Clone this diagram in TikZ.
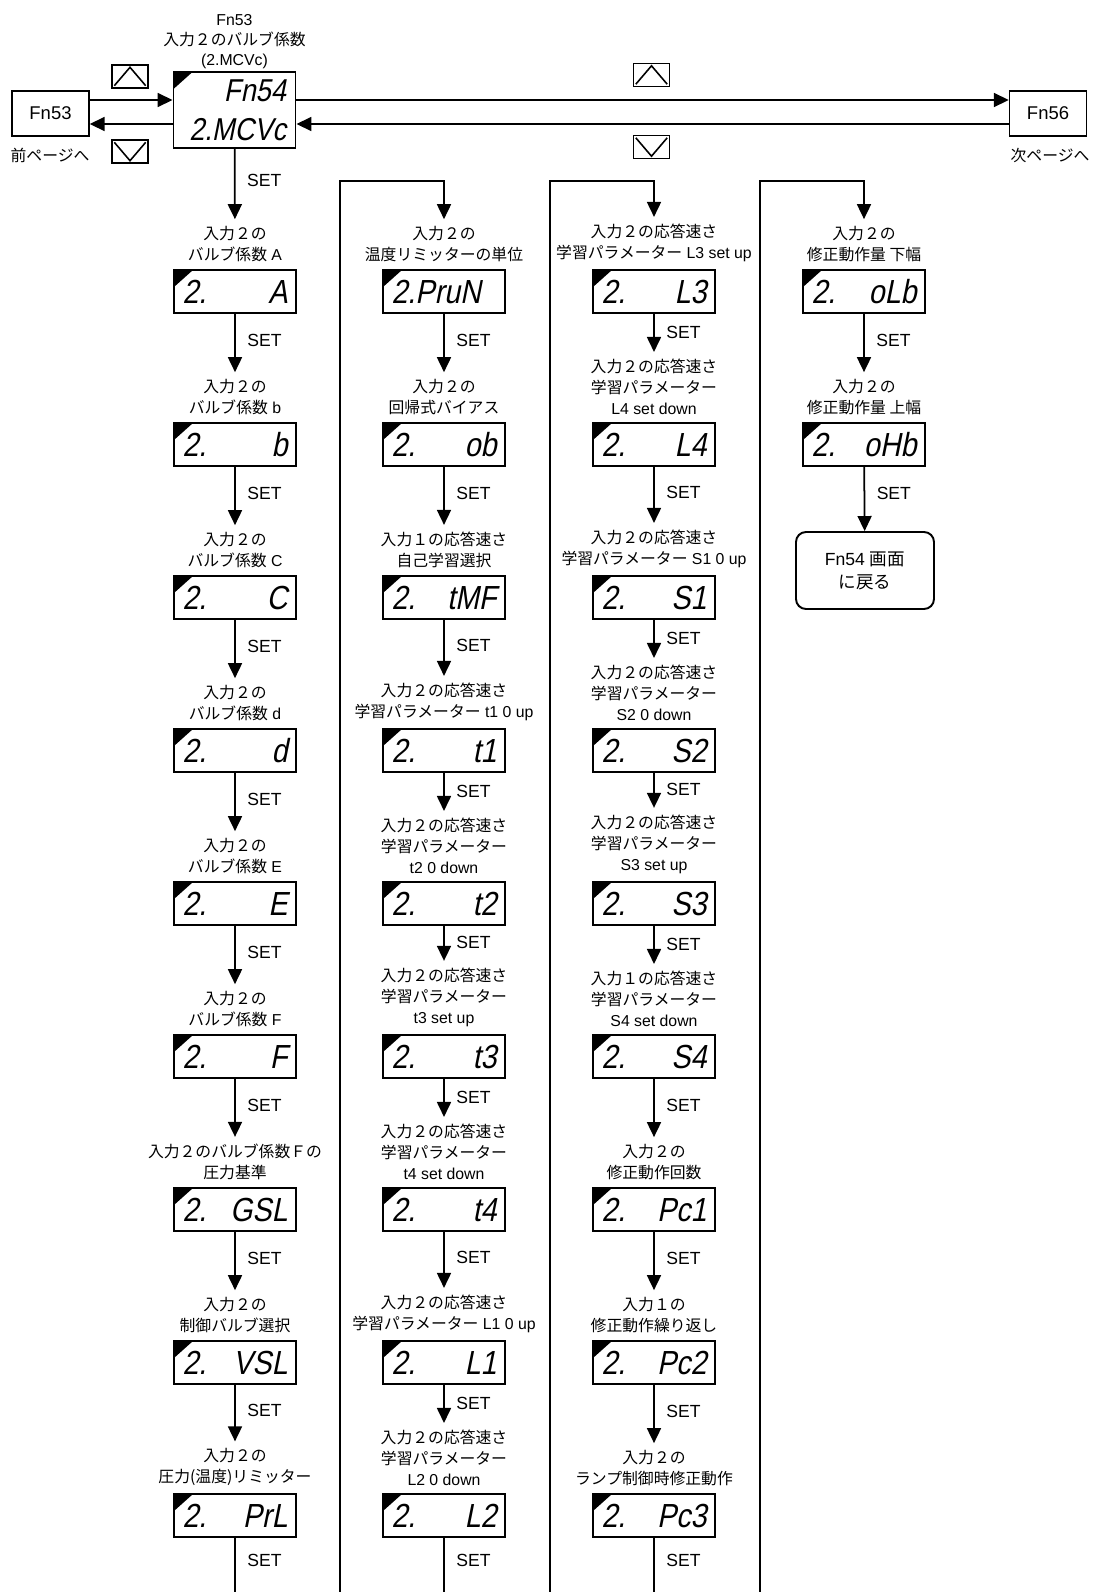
\documentclass[tikz,border=0pt]{standalone}
\usepackage{fontspec}
\setmainfont{Liberation Sans}
\newfontfamily\jpfont{Noto Sans CJK JP}
\newfontfamily\segfont{Liberation Sans}[FakeStretch=0.86, FakeSlant=0.2]
\usetikzlibrary{arrows.meta,positioning,calc}
\newcommand\J[1]{{\jpfont #1}}
\tikzset{
  lcd/.style={draw, line width=1.1pt, minimum width=24.4mm, minimum height=8.6mm, inner sep=0pt,
    text width=21mm, font=\fontsize{19}{22}\segfont,
    path picture={\fill (path picture bounding box.north west) -- ++(19,0) -- ++(-19,17) -- cycle;}},
  lbl/.style={align=center, inner sep=1pt, font=\fontsize{9}{12}\selectfont},
  pg/.style={draw, line width=0.8pt, minimum width=15.4mm, minimum height=9mm, font=\fontsize{10.5}{12}\selectfont},
  key/.style={draw, line width=0.8pt, minimum width=7.2mm, minimum height=4.6mm, inner sep=0pt},
  chev/.style={line width=0.9pt, line join=miter},
  flow/.style={-{Triangle[length=3mm, width=2.8mm]}, line width=1pt},
  setl/.style={right=2.3mm, pos=0.42, inner sep=0pt, font=\fontsize{10}{12}\selectfont},
}

\begin{document}
\begin{tikzpicture}[x=0.2mm, y=-0.2mm]
  \useasboundingbox (0,0) rectangle (1093,1592);
  % top row
  \node[lcd, minimum height=15.2mm, align=right, text width=20.6mm, font=\fontsize{18}{22}\segfont] (fn54) at (234.5,110) {Fn54\\2.MCVc};
  \node[lbl, above=0.1mm of fn54, font=\fontsize{9}{11.2}\selectfont] (fn54-l) {Fn53\\\J{入力２のバルブ係数}\\(2.MCVc)};
  \node[pg] (fn53) at (50.5,113.5) {Fn53};
  \node[pg] (fn56) at (1048,113.5) {Fn56};
  \node[lbl] (prev) at (50,155) {\J{前ページへ}};
  \node[lbl] (next) at (1050,155) {\J{次ページへ}};
  \node[key] (upl) at (130,76.5) {};
  \node[key] (dnl) at (130,151.5) {};
  \node[key] (upr) at (651.5,75) {};
  \node[key] (dnr) at (651.5,147) {};
  \draw[chev] ([shift={(3,-3)}]upl.south west) -- ([shift={(0,3)}]upl.north) -- ([shift={(-3,-3)}]upl.south east);
  \draw[chev] ([shift={(3,3)}]dnl.north west) -- ([shift={(0,-3)}]dnl.south) -- ([shift={(-3,3)}]dnl.north east);
  \draw[chev] ([shift={(3,-3)}]upr.south west) -- ([shift={(0,3)}]upr.north) -- ([shift={(-3,-3)}]upr.south east);
  \draw[chev] ([shift={(3,3)}]dnr.north west) -- ([shift={(0,-3)}]dnr.south) -- ([shift={(-3,3)}]dnr.north east);
  \coordinate (hi) at (0,100);
  \coordinate (lo) at (0,124);
  \draw[flow] (fn53.east |- hi) -- (fn54.west |- hi);
  \draw[flow] (fn54.west |- lo) -- (fn53.east |- lo);
  \draw[flow] (fn54.east |- hi) -- (fn56.west |- hi);
  \draw[flow] (fn56.west |- lo) -- (fn54.east |- lo);

  % column 1
  \node[lcd] (cfa) at (235,291.5) {2.\hfill A};
  \node[lcd] (cfb) at (235,444.5) {2.\hfill b};
  \node[lcd] (cfc) at (235,597.5) {2.\hfill C};
  \node[lcd] (cfd) at (235,750.5) {2.\hfill d};
  \node[lcd] (cfe) at (235,903.5) {2.\hfill E};
  \node[lcd] (cff) at (235,1056.5) {2.\hfill F};
  \node[lcd] (gsl) at (235,1209.5) {2.\hfill GSL};
  \node[lcd] (vsl) at (235,1362.5) {2.\hfill VSL};
  \node[lcd] (prl) at (235,1515.5) {2.\hfill PrL};
  \node[lbl, above=1mm of cfa] (cfa-l) {\J{入力２の}\\\J{バルブ係数} A};
  \node[lbl, above=1mm of cfb] (cfb-l) {\J{入力２の}\\\J{バルブ係数} b};
  \node[lbl, above=1mm of cfc] (cfc-l) {\J{入力２の}\\\J{バルブ係数} C};
  \node[lbl, above=1mm of cfd] (cfd-l) {\J{入力２の}\\\J{バルブ係数} d};
  \node[lbl, above=1mm of cfe] (cfe-l) {\J{入力２の}\\\J{バルブ係数} E};
  \node[lbl, above=1mm of cff] (cff-l) {\J{入力２の}\\\J{バルブ係数} F};
  \node[lbl, above=1mm of gsl] (gsl-l) {\J{入力２のバルブ係数Ｆの}\\\J{圧力基準}};
  \node[lbl, above=1mm of vsl] (vsl-l) {\J{入力２の}\\\J{制御バルブ選択}};
  \node[lbl, above=1mm of prl] (prl-l) {\J{入力２の}\\\J{圧力(温度)リミッター}};
  \coordinate (c1end) at (235,1592);
  \draw[flow, shorten >=1mm] (fn54) -- node[setl] {SET} (cfa-l);
  \draw[flow, shorten >=1mm] (cfa) -- node[setl] {SET} (cfb-l);
  \draw[flow, shorten >=1mm] (cfb) -- node[setl] {SET} (cfc-l);
  \draw[flow, shorten >=1mm] (cfc) -- node[setl] {SET} (cfd-l);
  \draw[flow, shorten >=1mm] (cfd) -- node[setl] {SET} (cfe-l);
  \draw[flow, shorten >=1mm] (cfe) -- node[setl] {SET} (cff-l);
  \draw[flow, shorten >=1mm] (cff) -- node[setl] {SET} (gsl-l);
  \draw[flow, shorten >=1mm] (gsl) -- node[setl] {SET} (vsl-l);
  \draw[flow, shorten >=1mm] (vsl) -- node[setl] {SET} (prl-l);
  \draw[line width=1pt] (prl) -- node[setl] {SET} (c1end);

  % column 2
  \node[lcd] (prun) at (444,291.5) {2.PruN};
  \node[lcd] (ob) at (444,444.5) {2.\hfill ob};
  \node[lcd] (tmf) at (444,597.5) {2.\hfill tMF};
  \node[lcd] (t1) at (444,750.5) {2.\hfill t1};
  \node[lcd] (t2) at (444,903.5) {2.\hfill t2};
  \node[lcd] (t3) at (444,1056.5) {2.\hfill t3};
  \node[lcd] (t4) at (444,1209.5) {2.\hfill t4};
  \node[lcd] (l1) at (444,1362.5) {2.\hfill L1};
  \node[lcd] (l2) at (444,1515.5) {2.\hfill L2};
  \node[lbl, above=1mm of prun] (prun-l) {\J{入力２の}\\\J{温度リミッターの単位}};
  \node[lbl, above=1mm of ob] (ob-l) {\J{入力２の}\\\J{回帰式バイアス}};
  \node[lbl, above=1mm of tmf] (tmf-l) {\J{入力１の応答速さ}\\\J{自己学習選択}};
  \node[lbl, above=1mm of t1] (t1-l) {\J{入力２の応答速さ}\\\J{学習パラメーター} t1 0 up};
  \node[lbl, above=1mm of t2] (t2-l) {\J{入力２の応答速さ}\\\J{学習パラメーター}\\t2 0 down};
  \node[lbl, above=1mm of t3] (t3-l) {\J{入力２の応答速さ}\\\J{学習パラメーター}\\t3 set up};
  \node[lbl, above=1mm of t4] (t4-l) {\J{入力２の応答速さ}\\\J{学習パラメーター}\\t4 set down};
  \node[lbl, above=1mm of l1] (l1-l) {\J{入力２の応答速さ}\\\J{学習パラメーター} L1 0 up};
  \node[lbl, above=1mm of l2] (l2-l) {\J{入力２の応答速さ}\\\J{学習パラメーター}\\L2 0 down};
  \coordinate (c2bot) at (340,1592);
  \coordinate (c2top) at (340,181);
  \coordinate (c2end) at (444,1592);
  \draw[flow, shorten >=1mm] (c2bot) -- (c2top) -| (prun-l);
  \draw[flow, shorten >=1mm] (prun) -- node[setl] {SET} (ob-l);
  \draw[flow, shorten >=1mm] (ob) -- node[setl] {SET} (tmf-l);
  \draw[flow, shorten >=1mm] (tmf) -- node[setl] {SET} (t1-l);
  \draw[flow, shorten >=1mm] (t1) -- node[setl] {SET} (t2-l);
  \draw[flow, shorten >=1mm] (t2) -- node[setl] {SET} (t3-l);
  \draw[flow, shorten >=1mm] (t3) -- node[setl] {SET} (t4-l);
  \draw[flow, shorten >=1mm] (t4) -- node[setl] {SET} (l1-l);
  \draw[flow, shorten >=1mm] (l1) -- node[setl] {SET} (l2-l);
  \draw[line width=1pt] (l2) -- node[setl] {SET} (c2end);

  % column 3
  \node[lcd] (l3) at (654,291.5) {2.\hfill L3};
  \node[lcd] (l4) at (654,444.5) {2.\hfill L4};
  \node[lcd] (s1) at (654,597.5) {2.\hfill S1};
  \node[lcd] (s2) at (654,750.5) {2.\hfill S2};
  \node[lcd] (s3) at (654,903.5) {2.\hfill S3};
  \node[lcd] (s4) at (654,1056.5) {2.\hfill S4};
  \node[lcd] (pc1) at (654,1209.5) {2.\hfill Pc1};
  \node[lcd] (pc2) at (654,1362.5) {2.\hfill Pc2};
  \node[lcd] (pc3) at (654,1515.5) {2.\hfill Pc3};
  \node[lbl, above=1mm of l3] (l3-l) {\J{入力２の応答速さ}\\\J{学習パラメーター} L3 set up};
  \node[lbl, above=1mm of l4] (l4-l) {\J{入力２の応答速さ}\\\J{学習パラメーター}\\L4 set down};
  \node[lbl, above=1mm of s1] (s1-l) {\J{入力２の応答速さ}\\\J{学習パラメーター} S1 0 up};
  \node[lbl, above=1mm of s2] (s2-l) {\J{入力２の応答速さ}\\\J{学習パラメーター}\\S2 0 down};
  \node[lbl, above=1mm of s3] (s3-l) {\J{入力２の応答速さ}\\\J{学習パラメーター}\\S3 set up};
  \node[lbl, above=1mm of s4] (s4-l) {\J{入力１の応答速さ}\\\J{学習パラメーター}\\S4 set down};
  \node[lbl, above=1mm of pc1] (pc1-l) {\J{入力２の}\\\J{修正動作回数}};
  \node[lbl, above=1mm of pc2] (pc2-l) {\J{入力１の}\\\J{修正動作繰り返し}};
  \node[lbl, above=1mm of pc3] (pc3-l) {\J{入力２の}\\\J{ランプ制御時修正動作}};
  \coordinate (c3bot) at (550,1592);
  \coordinate (c3top) at (550,181);
  \coordinate (c3end) at (654,1592);
  \draw[flow, shorten >=1mm] (c3bot) -- (c3top) -| (l3-l);
  \draw[flow, shorten >=1mm] (l3) -- node[setl] {SET} (l4-l);
  \draw[flow, shorten >=1mm] (l4) -- node[setl] {SET} (s1-l);
  \draw[flow, shorten >=1mm] (s1) -- node[setl] {SET} (s2-l);
  \draw[flow, shorten >=1mm] (s2) -- node[setl] {SET} (s3-l);
  \draw[flow, shorten >=1mm] (s3) -- node[setl] {SET} (s4-l);
  \draw[flow, shorten >=1mm] (s4) -- node[setl] {SET} (pc1-l);
  \draw[flow, shorten >=1mm] (pc1) -- node[setl] {SET} (pc2-l);
  \draw[flow, shorten >=1mm] (pc2) -- node[setl] {SET} (pc3-l);
  \draw[line width=1pt] (pc3) -- node[setl] {SET} (c3end);

  % column 4
  \node[lcd] (olb) at (864,291.5) {2.\hfill oLb};
  \node[lcd] (ohb) at (864,444.5) {2.\hfill oHb};
  \node[lbl, above=1mm of olb] (olb-l) {\J{入力２の}\\\J{修正動作量 下幅}};
  \node[lbl, above=1mm of ohb] (ohb-l) {\J{入力２の}\\\J{修正動作量 上幅}};
  \node[draw, line width=1.1pt, rounded corners=2mm, minimum width=27.6mm, minimum height=15.4mm,
    align=center, font=\fontsize{10}{13}\selectfont] (back) at (865,570.5) {Fn54 \J{画面}\\\J{に戻る}};
  \coordinate (c4bot) at (760,1592);
  \coordinate (c4top) at (760,181);
  \draw[flow, shorten >=1mm] (c4bot) -- (c4top) -| (olb-l);
  \draw[flow, shorten >=1mm] (olb) -- node[setl] {SET} (ohb-l);
  \draw[flow] (ohb) -- node[setl] {SET} (back);
\end{tikzpicture}
\end{document}
